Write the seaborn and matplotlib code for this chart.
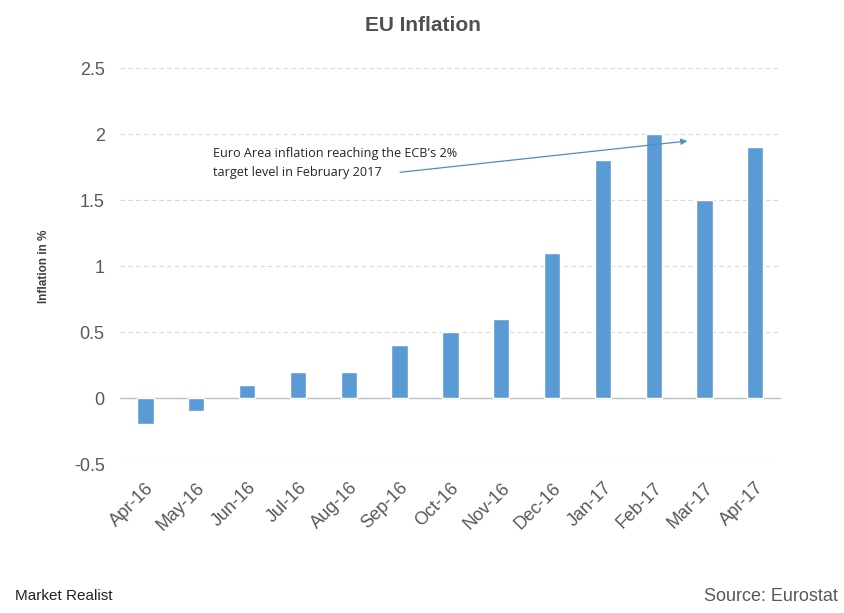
import matplotlib
matplotlib.use("Agg")
import matplotlib.pyplot as plt
import seaborn as sns
import pandas as pd

months = ["Apr-16", "May-16", "Jun-16", "Jul-16", "Aug-16", "Sep-16", "Oct-16",
          "Nov-16", "Dec-16", "Jan-17", "Feb-17", "Mar-17", "Apr-17"]
inflation = [-0.2, -0.1, 0.1, 0.2, 0.2, 0.4, 0.5, 0.6, 1.1, 1.8, 2.0, 1.5, 1.9]
yticks = [-0.5, 0, 0.5, 1, 1.5, 2, 2.5]
ytick_labels = ["-0.5", "0", "0.5", "1", "1.5", "2", "2.5"]

sns.set_theme(style="white")
plt.rcParams['font.family'] = ['Liberation Sans', 'DejaVu Sans']

df = pd.DataFrame({"month": months, "inflation": inflation})

fig = plt.figure(figsize=(8.45, 6.13), dpi=100)
ax = fig.add_axes([0.142, 0.243, 0.782, 0.646])

sns.barplot(data=df, x="month", y="inflation", color="#5b9bd5", width=0.32,
            saturation=1, ax=ax, zorder=3)

ax.set_ylim(-0.5, 2.5)
ax.set_xlim(-0.5, len(months) - 0.5)
ax.set_yticks(yticks)
ax.set_yticklabels(ytick_labels)
for y in yticks:
    if y == 0:
        ax.axhline(y, color="#bfbfbf", lw=1, zorder=2)
    else:
        ax.axhline(y, color="#d9d9d9", lw=0.8, ls=(0, (4, 3)), zorder=1)

for s in ax.spines.values():
    s.set_visible(False)

ax.tick_params(axis="y", length=0, pad=11, labelsize=13, labelcolor="#595959")
ax.tick_params(axis="x", length=0, pad=11, labelsize=13, labelcolor="#595959")
plt.setp(ax.get_xticklabels(), rotation=45, ha="right", rotation_mode="anchor")

ax.set_xlabel("")
ax.set_ylabel("Inflation in %", fontsize=8.5, fontweight="bold", color="#404040", labelpad=17)

ax.annotate("", xy=(10.66, 1.947), xytext=(5.01, 1.71),
            arrowprops=dict(arrowstyle="-|>", color="#4f8fc0", lw=0.9,
                            mutation_scale=9, shrinkA=0, shrinkB=0), zorder=5)
ax.text(1.33, 1.78, "Euro Area inflation reaching the ECB's 2%\ntarget level in February 2017",
        fontsize=9.1, family=["Open Sans", "DejaVu Sans"], color="#262626",
        ha="left", va="center", linespacing=1.6, zorder=5)

fig.text(0.5, 0.958, "EU Inflation", ha="center", va="center", fontsize=15,
         fontweight="bold", color="#505050",
         family=["Liberation Sans Narrow", "Liberation Sans", "DejaVu Sans"])
fig.text(0.018, 0.027, "Market Realist", ha="left", va="center", fontsize=11,
         color="#222222")
fig.text(0.992, 0.027, "Source: Eurostat", ha="right", va="center", fontsize=13,
         color="#595959")

fig.savefig("out.png", dpi=100)
